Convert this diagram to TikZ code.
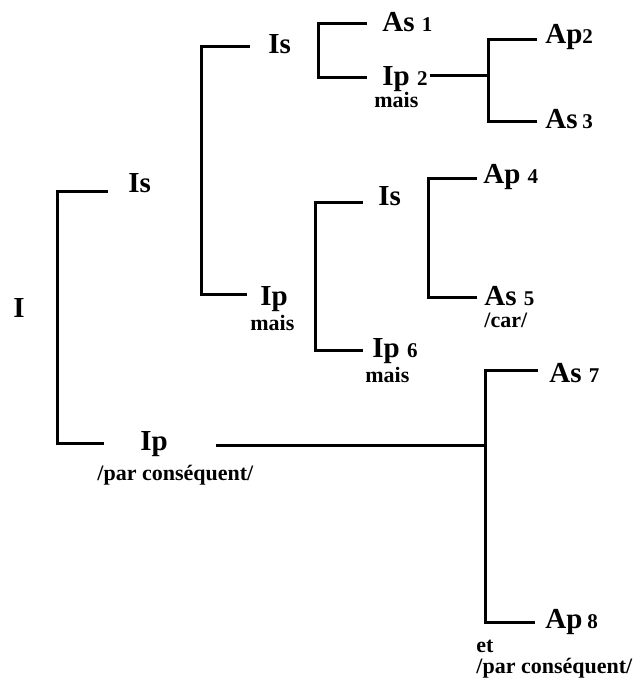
\documentclass[tikz,border=0pt]{standalone}
\usepackage{fontspec}
\setmainfont{Liberation Serif}
\usepackage{tikz}
\newcommand{\nb}[1]{{\fontsize{10.5}{12}\selectfont #1}}

\begin{document}
\begin{tikzpicture}[x=0.5pt,y=-0.5pt,
  lbl/.style={inner sep=0pt,anchor=base west,font=\bfseries\fontsize{14.5}{16}\selectfont},
  note/.style={inner sep=0pt,anchor=base west,font=\bfseries\fontsize{11}{12}\selectfont},
  link/.style={black,line width=1.5pt}]
\useasboundingbox (0,0) rectangle (638,685);
\node [lbl] (top) at (13,317) {I};
\node [lbl] (isA) at (128,192) {Is};
\node [lbl] (ipA) at (140,450) {Ip};
\node [note] (parA) at (97,480) {/par conséquent/};
\node [lbl] (isB) at (268,53) {Is};
\node [lbl] (ipB) at (260,305) {Ip};
\node [note] (maisB) at (250,330) {mais};
\node [lbl] (as1) at (382,32) {As \nb{1}};
\node [lbl] (ip2) at (382,85) {Ip \nb{2}};
\node [note] (mais2) at (374,107) {mais};
\node [lbl] (ap2) at (545,43) {Ap\nb{2}};
\node [lbl] (as3) at (545,128) {As\,\nb{3}};
\node [lbl] (isC) at (378,205) {Is};
\node [lbl] (ip6) at (372,357) {Ip \nb{6}};
\node [note] (mais6) at (365,382) {mais};
\node [lbl] (ap4) at (483,183) {Ap \nb{4}};
\node [lbl] (as5) at (484,305) {As \nb{5}};
\node [note] (car5) at (484,327) {/car/};
\node [lbl] (as7) at (549,382) {As \nb{7}};
\node [lbl] (ap8) at (545,628) {Ap\,\nb{8}};
\node [note] (et8) at (476,652) {et};
\node [note] (par8) at (476,673) {/par conséquent/};
\coordinate (isA-t) at (108,191);
\coordinate (ipA-t) at (104,443);
\coordinate (brA) at (57,300);
\coordinate (isB-t) at (250,46);
\coordinate (ipB-t) at (247,294);
\coordinate (brB) at (201,150);
\coordinate (as1-t) at (367,23);
\coordinate (ip2-t) at (367,77);
\coordinate (br12) at (318,50);
\coordinate (ap2-t) at (537,39);
\coordinate (as3-t) at (537,121);
\coordinate (br23) at (488,75);
\coordinate (isC-t) at (363,202);
\coordinate (ip6-t) at (363,350);
\coordinate (brC) at (315,270);
\coordinate (ap4-t) at (477,178);
\coordinate (as5-t) at (477,297);
\coordinate (br45) at (428,240);
\coordinate (as7-t) at (538,370);
\coordinate (ap8-t) at (535,622);
\coordinate (br78) at (485,445);
\draw [link] (isA-t) -| (brA) |- (ipA-t);
\draw [link] (isB-t) -| (brB) |- (ipB-t);
\draw [link] (as1-t) -| (br12) |- (ip2-t);
\draw [link] (ap2-t) -| (br23) |- (as3-t);
\draw [link] (isC-t) -| (brC) |- (ip6-t);
\draw [link] (ap4-t) -| (br45) |- (as5-t);
\draw [link] (as7-t) -| (br78) |- (ap8-t);
\draw [link] ([xshift=1pt]ip2.east |- br23) -- (br23);
\draw [link] ([xshift=24pt]ipA.east |- br78) -- (br78);
\end{tikzpicture}
\end{document}
